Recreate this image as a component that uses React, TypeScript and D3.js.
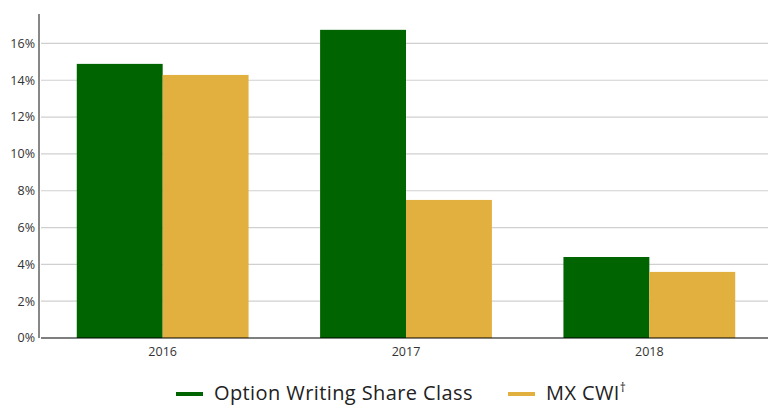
import React, { useEffect, useRef } from 'react';
import * as d3 from 'd3';

const years = ['2016', '2017', '2018'];
const optionWriting = [14.89, 16.74, 4.4];
const mxCwi = [14.29, 7.5, 3.59];
const yTicks = [0, 2, 4, 6, 8, 10, 12, 14, 16];
const seriesNames = ['Option Writing Share Class', 'MX CWI'];
const colors = ['#006400', '#e2b03e'];

export default function App() {
    const svgRef = useRef<SVGSVGElement>(null);

    useEffect(() => {
        const svg = d3.select(svgRef.current);
        svg.selectAll('*').remove();

        const width = 768;
        const left = 41;
        const bottom = 338;
        const top = 14;

        const x = d3.scaleBand<string>()
            .domain(years)
            .range([left, 771])
            .paddingInner(0.294)
            .paddingOuter(0.147);

        const x1 = d3.scaleBand<number>()
            .domain([0, 1])
            .range([0, x.bandwidth()]);

        const y = d3.scaleLinear()
            .domain([0, 17.6])
            .range([bottom, top]);

        // grid lines
        svg.append('g')
            .selectAll('line')
            .data(yTicks.filter((d) => d > 0))
            .enter().append('line')
            .attr('x1', left)
            .attr('x2', width)
            .attr('y1', (d) => y(d))
            .attr('y2', (d) => y(d))
            .attr('stroke', '#d0d0d0')
            .attr('stroke-width', 1.2);

        // bars
        const groups = svg.append('g')
            .selectAll('g')
            .data(years)
            .enter().append('g')
            .attr('transform', (d) => `translate(${x(d)},0)`);

        groups.selectAll('rect')
            .data((_, i) => [optionWriting[i], mxCwi[i]])
            .enter().append('rect')
            .attr('x', (_, j) => x1(j)!)
            .attr('width', x1.bandwidth())
            .attr('y', (d) => y(d))
            .attr('height', (d) => bottom - y(d))
            .attr('fill', (_, j) => colors[j]);

        // x axis line
        svg.append('line')
            .attr('x1', left)
            .attr('x2', width)
            .attr('y1', bottom)
            .attr('y2', bottom)
            .attr('stroke', '#000')
            .attr('stroke-width', 1.2);

        // y axis line
        svg.append('line')
            .attr('x1', 39)
            .attr('x2', 39)
            .attr('y1', top)
            .attr('y2', bottom)
            .attr('stroke', '#888')
            .attr('stroke-width', 2);

        // y tick labels
        svg.append('g')
            .selectAll('text')
            .data(yTicks)
            .enter().append('text')
            .attr('x', 35)
            .attr('y', (d) => y(d))
            .attr('dy', '0.35em')
            .attr('text-anchor', 'end')
            .attr('font-size', 12.5)
            .attr('fill', '#333')
            .text((d) => `${d}%`);

        // x tick labels
        svg.append('g')
            .selectAll('text')
            .data(years)
            .enter().append('text')
            .attr('x', (d) => x(d)! + x.bandwidth() / 2)
            .attr('y', 356)
            .attr('text-anchor', 'middle')
            .attr('font-size', 12.5)
            .attr('fill', '#333')
            .text((d) => d);

        // legend
        const legendX = [176, 508];
        const legend = svg.append('g')
            .selectAll('g')
            .data(seriesNames)
            .enter().append('g')
            .attr('transform', (_, i) => `translate(${legendX[i]},0)`);

        legend.append('line')
            .attr('x1', 0)
            .attr('x2', 27)
            .attr('y1', 394)
            .attr('y2', 394)
            .attr('stroke', (_, i) => colors[i])
            .attr('stroke-width', 4);

        const labels = legend.append('text')
            .attr('x', 38)
            .attr('y', 400)
            .attr('font-size', 20)
            .attr('letter-spacing', 0.4)
            .attr('fill', '#222')
            .text((d) => d);

        labels.filter((_, i) => i === 1)
            .append('tspan')
            .attr('dy', -8)
            .attr('font-size', 12)
            .text('†');
    }, []);

    return (
        <svg
            ref={svgRef}
            width={768}
            height={406}
            style={{ position: 'absolute', left: 0, top: 0, fontFamily: 'Open Sans, sans-serif' }}
        />
    );
}
